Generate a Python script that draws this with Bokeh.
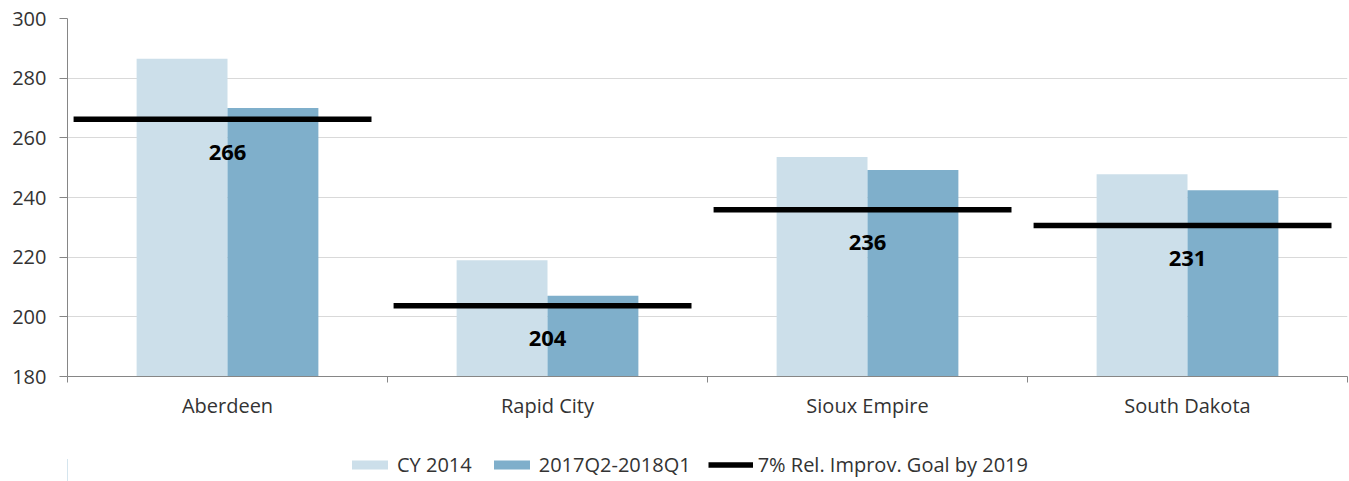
from bokeh.plotting import figure
from bokeh.layouts import column
from bokeh.models import (ColumnDataSource, Range1d, FixedTicker, Legend, LegendItem)
from bokeh.transform import dodge
from bokeh.core.properties import value
from bokeh.embed import file_html
from bokeh.resources import INLINE

# ---- data ----
categories = ["Aberdeen", "Rapid City", "Sioux Empire", "South Dakota"]
cy2014 = [286.5, 219.0, 253.6, 247.8]
recent = [270.0, 207.1, 249.2, 242.4]
goal = [266.2, 203.7, 235.9, 230.6]
goal_labels = ["266", "204", "236", "231"]
y_ticks = [180, 200, 220, 240, 260, 280, 300]

series_names = ["CY 2014", "2017Q2-2018Q1", "7% Rel. Improv. Goal by 2019"]

LIGHT = "#CCDFEA"
DARK = "#7FAFCB"
AXIS = "#868686"
GRID = "#D9D9D9"
TXT = "#333333"
FONT = "Open Sans"

n = len(categories)
centers = [i + 0.5 for i in range(n)]   # category slot centres on a 0..n scale

src = ColumnDataSource(dict(x=centers, cat=categories, cy=cy2014, rc=recent,
                            goal=goal, lab=goal_labels))

p = figure(x_range=Range1d(0, n),
           y_range=Range1d(y_ticks[0], y_ticks[-1]),
           frame_width=1280, frame_height=358,
           min_border_left=67, min_border_right=2, min_border_top=18,
           min_border_bottom=60,
           output_backend="svg", toolbar_location=None,
           background_fill_color="white", border_fill_color="white")
p.outline_line_color = None
p.xgrid.visible = False
p.ygrid.grid_line_color = GRID
p.ygrid.grid_line_width = 1
p.ygrid.ticker = FixedTicker(ticks=y_ticks)

# y axis
ya = p.yaxis[0]
ya.ticker = FixedTicker(ticks=y_ticks)
ya.axis_line_color = AXIS
ya.major_tick_line_color = AXIS
ya.major_tick_out = 8
ya.major_tick_in = 0
ya.minor_tick_line_color = None
ya.major_label_standoff = 13
ya.major_label_text_font = FONT
ya.major_label_text_font_size = "20px"
ya.major_label_text_color = TXT

# x axis: labels at category centres, tick marks at category boundaries
xa = p.xaxis[0]
xa.ticker = FixedTicker(ticks=centers, minor_ticks=list(range(n + 1)))
xa.major_label_overrides = {c: lab for c, lab in zip(centers, categories)}
xa.axis_line_color = AXIS
xa.major_tick_line_color = None
xa.major_tick_out = 0
xa.major_tick_in = 0
xa.minor_tick_line_color = AXIS
xa.minor_tick_out = 6
xa.minor_tick_in = 0
xa.major_label_standoff = 9
xa.major_label_text_font = FONT
xa.major_label_text_font_size = "20px"
xa.major_label_text_color = TXT

bw = 0.284
bar1 = dict(fill_color=LIGHT, line_color=None)
bar2 = dict(fill_color=DARK, line_color=None)
seg = dict(line_color="black", line_width=5.5, line_cap="butt")

p.vbar(x=dodge("x", -bw / 2), top="cy", bottom=y_ticks[0], width=bw, source=src, **bar1)
p.vbar(x=dodge("x", bw / 2), top="rc", bottom=y_ticks[0], width=bw, source=src, **bar2)
p.segment(x0=dodge("x", -0.481), y0="goal", x1=dodge("x", 0.45), y1="goal",
          source=src, **seg)
p.text(x="x", y="goal", text="lab", source=src, y_offset=33,
       text_font=value(FONT), text_font_style="bold", text_font_size="22px",
       text_align="center", text_baseline="middle", text_color="black")

# ---- legend strip below the chart ----
lg = figure(width=1349, height=45, x_range=Range1d(0, 1), y_range=Range1d(0, 1),
            x_axis_location=None, y_axis_location=None,
            min_border_left=0, min_border_right=0, min_border_top=0, min_border_bottom=0,
            output_backend="svg", toolbar_location=None,
            background_fill_color="white", border_fill_color="white")
lg.outline_line_color = None
lg.grid.visible = False
# legend-only renderers: one point placed outside the strip's visible range
key_src = ColumnDataSource(dict(x=[-5.0], top=[0.5], x1=[-4.0], y=[0.5]))
l1 = lg.vbar(x="x", top="top", width=0.1, source=key_src, **bar1)
l2 = lg.vbar(x="x", top="top", width=0.1, source=key_src, **bar2)
l3 = lg.segment(x0="x", y0="y", x1="x1", y1="y", source=key_src, **seg)

legend = Legend(items=[LegendItem(label=series_names[0], renderers=[l1]),
                       LegendItem(label=series_names[1], renderers=[l2]),
                       LegendItem(label=series_names[2], renderers=[l3])],
                location=(280, 3), orientation="horizontal",
                glyph_width=45, glyph_height=11, label_standoff=5, spacing=17,
                padding=0, margin=0, border_line_color=None,
                background_fill_alpha=0,
                label_text_font=FONT, label_text_font_size="20px",
                label_text_color=TXT)
lg.add_layout(legend, "center")

layout = column(p, lg, spacing=0)
open("out.html", "w").write(file_html(layout, INLINE))
